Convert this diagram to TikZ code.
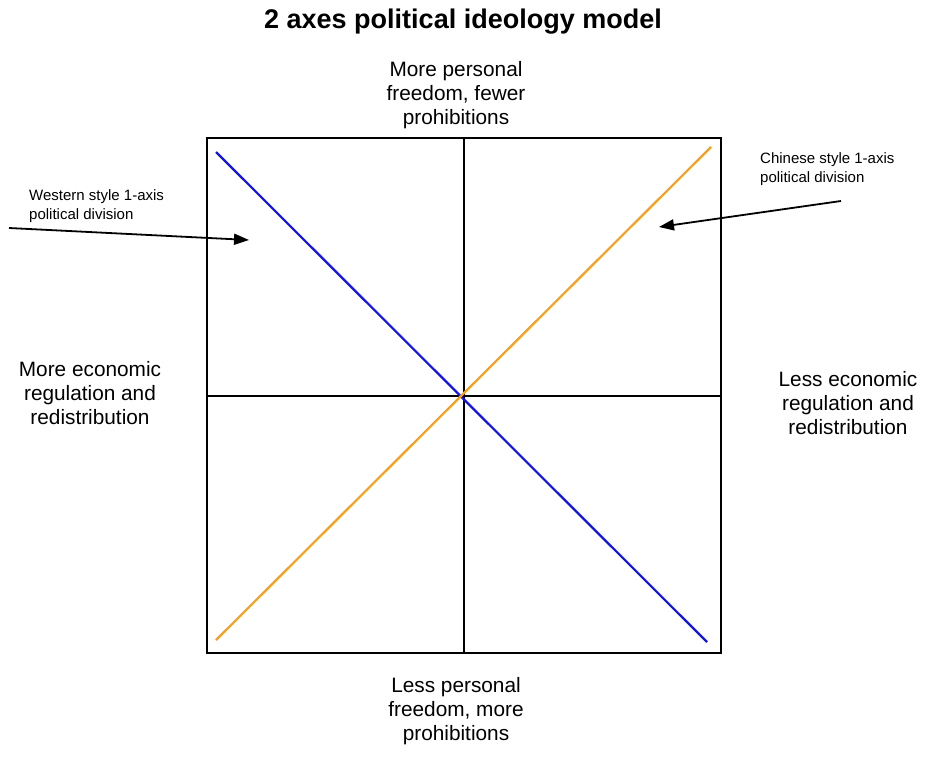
\documentclass[tikz,border=0pt]{standalone}
\usepackage{fontspec}
\setmainfont{Liberation Sans}
\usetikzlibrary{arrows.meta}
\definecolor{bluel}{RGB}{20,20,230}
\definecolor{orangel}{RGB}{245,160,30}
\tikzset{
  axis/.style={line width=2.2pt, black},
  lbl/.style={font=\fontsize{20.8}{24}\selectfont, align=center, inner sep=0pt},
  small/.style={font=\fontsize{15}{18.5}\selectfont, align=left, inner sep=0pt, anchor=west},
  ptr/.style={line width=1.8pt, -{Triangle[length=15pt,width=11pt]}}
}
\begin{document}
\begin{tikzpicture}[x=1pt,y=-1pt]
\useasboundingbox[fill=white] (0,0) rectangle (945,763);
\node[font=\fontsize{27}{32}\bfseries\selectfont, inner sep=0pt] (title) at (463,22) {2 axes political ideology model};
\coordinate (tl) at (207,138);
\coordinate (br) at (721,653);
\coordinate (tm) at (464,138);
\coordinate (bm) at (464,653);
\coordinate (lm) at (207,396);
\coordinate (rm) at (721,396);
\draw[axis] (tl) rectangle (br);
\draw[axis] (tm) -- (bm);
\draw[axis] (lm) -- (rm);
\coordinate (b1) at (216,152);
\coordinate (b2) at (707,642);
\coordinate (o1) at (216,640);
\coordinate (o2) at (711,147);
\draw[bluel, line width=2.2pt] (b1) -- (b2);
\draw[orangel, line width=2.2pt] (o1) -- (o2);
\node[lbl] (top) at (456,95) {More personal\\freedom, fewer\\prohibitions};
\node[lbl] (bot) at (456,711) {Less personal\\freedom, more\\prohibitions};
\node[lbl] (left) at (90,393) {More economic\\regulation and\\redistribution};
\node[lbl] (right) at (848,403) {Less economic\\regulation and\\redistribution};
\node[small] (west) at (29,206) {Western style 1-axis\\political division};
\node[small] (chin) at (760,169) {Chinese style 1-axis\\political division};
\coordinate (ws) at (9,228);
\coordinate (we) at (249,240);
\coordinate (cs) at (841,201);
\coordinate (ce) at (659,227);
\draw[ptr] (ws) -- (we);
\draw[ptr] (cs) -- (ce);
\end{tikzpicture}
\end{document}
